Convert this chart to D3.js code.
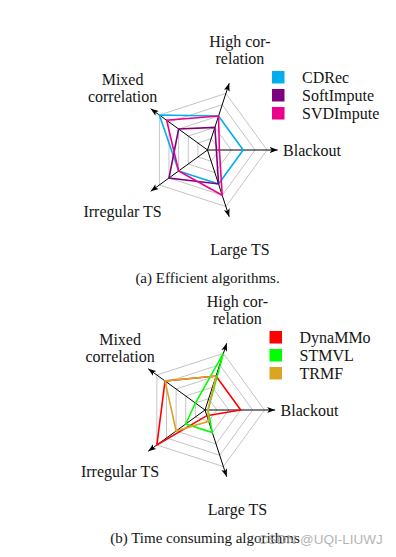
<!DOCTYPE html>
<html>
<head>
<meta charset="UTF-8">
<style>
  body { margin: 0; background: #fff; }
  svg { display: block; }
  text { font-family: "Liberation Serif", "Times New Roman", serif; fill: #141414; }
</style>
<script src="https://d3js.org/d3.v7.min.js"></script>
</head>
<body>
<svg id="chart" width="396" height="557"></svg>
<script>
// axes of the radar, counter-clockwise starting from the right
const axes = ["Blackout", "High correlation", "Mixed correlation", "Irregular TS", "Large TS"];
const axisLabels = [["Blackout"], ["High cor-", "relation"], ["Mixed", "correlation"], ["Irregular TS"], ["Large TS"]];
const levels = [0.2, 0.4, 0.6, 0.8, 1.0];

// (a) efficient algorithms
const efficientNames = ["CDRec", "SoftImpute", "SVDImpute"];
const efficientColors = ["#00aeef", "#7f007f", "#ec008c"];
const cdrec = [0.6, 0.6, 1.0, 0.6, 0.6];
const softImpute = [0.15, 0.4, 0.6, 0.8, 0.6];
const svdImpute = [0.2, 0.6, 0.85, 0.6, 0.8];

// (b) time consuming algorithms
const slowNames = ["DynaMMo", "STMVL", "TRMF"];
const slowColors = ["#ff0000", "#00ff00", "#daa520"];
const dynammo = [0.6, 0.6, 0.83, 1.0, 0.1];
const stmvl = [0.05, 1.0, 0.2, 0.4, 0.4];
const trmf = [0.05, 0.6, 0.83, 0.6, 0.2];

const svg = d3.select("#chart");
const R = 59.5;

// arrow head for the axes
svg.append("defs").append("marker")
  .attr("id", "arrow")
  .attr("viewBox", "0 -3 8 6")
  .attr("refX", 8).attr("refY", 0)
  .attr("markerUnits", "userSpaceOnUse")
  .attr("markerWidth", 8).attr("markerHeight", 6)
  .attr("orient", "auto")
  .append("path").attr("d", "M0,-3L8,0L0,3L2,0Z").attr("fill", "#000");

// angle for lineRadial: clockwise from north, Blackout points east
const angle = d3.scaleLinear().domain([0, axes.length]).range([Math.PI / 2, Math.PI / 2 - 2 * Math.PI]);
const r = d3.scaleLinear().domain([0, 1]).range([0, R]);

function pt(i, rad) {
  const a = angle(i) - Math.PI / 2;
  return [rad * Math.cos(a), rad * Math.sin(a)];
}

function drawRadar(cx, cy, names, colors, series, caption) {
  const g = svg.append("g").attr("transform", `translate(${cx},${cy})`);

  // grid pentagons
  const ring = d3.lineRadial().angle((d, i) => angle(i)).radius(d => r(d)).curve(d3.curveLinearClosed);
  g.selectAll("path.grid")
    .data(levels)
    .enter().append("path")
    .attr("class", "grid")
    .attr("d", lv => ring(axes.map(() => lv)))
    .attr("fill", "none")
    .attr("stroke", "#c4c4c4")
    .attr("stroke-width", 1);

  // axes with arrows
  g.selectAll("line.axis")
    .data(axes)
    .enter().append("line")
    .attr("class", "axis")
    .attr("x1", 0).attr("y1", 0)
    .attr("x2", (d, i) => pt(i, r(1.18))[0])
    .attr("y2", (d, i) => pt(i, r(1.18))[1])
    .attr("stroke", "#000")
    .attr("stroke-width", 1)
    .attr("marker-end", "url(#arrow)");

  // series polygons
  const poly = d3.lineRadial().angle((d, i) => angle(i)).radius(d => r(d)).curve(d3.curveLinearClosed);
  g.selectAll("path.series")
    .data(series)
    .enter().append("path")
    .attr("class", "series")
    .attr("d", d => poly(d))
    .attr("fill", "none")
    .attr("stroke", (d, i) => colors[i])
    .attr("stroke-width", 1.6)
    .attr("stroke-linejoin", "miter");

  // axis labels
  axisLabels.forEach((lines, i) => {
    let x, y, anchor = "middle";
    if (i === 0) {
      x = r(1.27); y = 0; anchor = "start";
    } else {
      [x, y] = pt(i, 105);
    }
    const t = g.append("text")
      .attr("text-anchor", anchor)
      .attr("font-size", 16);
    lines.forEach((s, k) => {
      t.append("tspan")
        .attr("x", x)
        .attr("y", y + 5.5 + (k - (lines.length - 1) / 2) * 17)
        .text(s);
    });
  });

  // legend
  const leg = g.selectAll("g.legend")
    .data(names)
    .enter().append("g")
    .attr("class", "legend")
    .attr("transform", (d, i) => `translate(64.5,${-79 + i * 18})`);
  leg.append("rect")
    .attr("width", 12.5).attr("height", 12.5)
    .attr("fill", (d, i) => colors[i]);
  leg.append("text")
    .attr("x", 30).attr("y", 11.5)
    .attr("font-size", 16)
    .text(d => d);

  // caption
  g.append("text")
    .attr("x", 0).attr("y", 133)
    .attr("text-anchor", "middle")
    .attr("font-size", 15)
    .text(caption);
}

drawRadar(207.5, 150, efficientNames, efficientColors, [cdrec, softImpute, svdImpute], "(a) Efficient algorithms.");
drawRadar(205, 410, slowNames, slowColors, [dynammo, stmvl, trmf], "(b) Time consuming algorithms");

// watermark laid over the bottom caption, as in the source image
svg.append("text")
  .attr("x", 258).attr("y", 544)
  .style("font-family", "'Liberation Sans', Arial, sans-serif")
  .style("fill", "#a8a8a8")
  .attr("opacity", 0.85)
  .attr("font-size", 13.5)
  .text("CSDN @UQI-LIUWJ");
</script>
</body>
</html>
